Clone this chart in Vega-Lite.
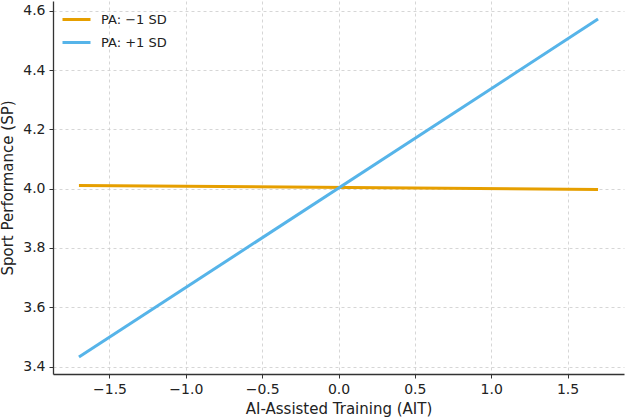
{
  "$schema": "https://vega.github.io/schema/vega-lite/v6.json",
  "autosize": "none",
  "width": 571,
  "height": 373,
  "padding": {"left": 53, "top": 1, "right": 6, "bottom": 43},
  "background": "white",
  "config": {
    "view": {"stroke": null},
    "font": "DejaVu Sans",
    "axis": {
      "labelFont": "DejaVu Sans",
      "titleFont": "DejaVu Sans",
      "labelFontSize": 14,
      "titleFontSize": 15,
      "titleFontWeight": "normal",
      "labelColor": "#222",
      "titleColor": "#222",
      "domainColor": "#333",
      "domainWidth": 1.3,
      "tickColor": "#333",
      "tickSize": 4,
      "gridColor": "#cccccc",
      "gridDash": [3, 3],
      "gridWidth": 0.8
    }
  },
  "data": {
    "values": [
      {"ait": -1.7, "sp": 4.011, "group": "PA: −1 SD"},
      {"ait": 1.7, "sp": 3.997, "group": "PA: −1 SD"},
      {"ait": -1.7, "sp": 3.432, "group": "PA: +1 SD"},
      {"ait": 1.7, "sp": 4.572, "group": "PA: +1 SD"}
    ]
  },
  "mark": {"type": "line", "strokeWidth": 3},
  "encoding": {
    "x": {
      "field": "ait",
      "type": "quantitative",
      "scale": {"domain": [-1.87, 1.87], "nice": false, "zero": false},
      "axis": {"values": [-1.5, -1.0, -0.5, 0.0, 0.5, 1.0, 1.5], "format": ".1f", "title": "AI-Assisted Training (AIT)", "titlePadding": 5, "labelPadding": 4}
    },
    "y": {
      "field": "sp",
      "type": "quantitative",
      "scale": {"domain": [3.375, 4.633], "nice": false, "zero": false},
      "axis": {"values": [3.4, 3.6, 3.8, 4.0, 4.2, 4.4, 4.6], "format": ".1f", "title": "Sport Performance (SP)", "titlePadding": 7, "labelPadding": 4}
    },
    "color": {
      "field": "group",
      "type": "nominal",
      "scale": {"domain": ["PA: −1 SD", "PA: +1 SD"], "range": ["#E69F00", "#56B4E9"]},
      "legend": {
        "title": null,
        "orient": "none",
        "legendX": 8,
        "legendY": 3,
        "padding": 0,
        "symbolType": "stroke",
        "symbolSize": 784,
        "symbolStrokeWidth": 3,
        "labelFontSize": 13,
        "labelFont": "DejaVu Sans",
        "labelColor": "#222",
        "rowPadding": -7,
        "labelOffset": 9
      }
    }
  }
}
